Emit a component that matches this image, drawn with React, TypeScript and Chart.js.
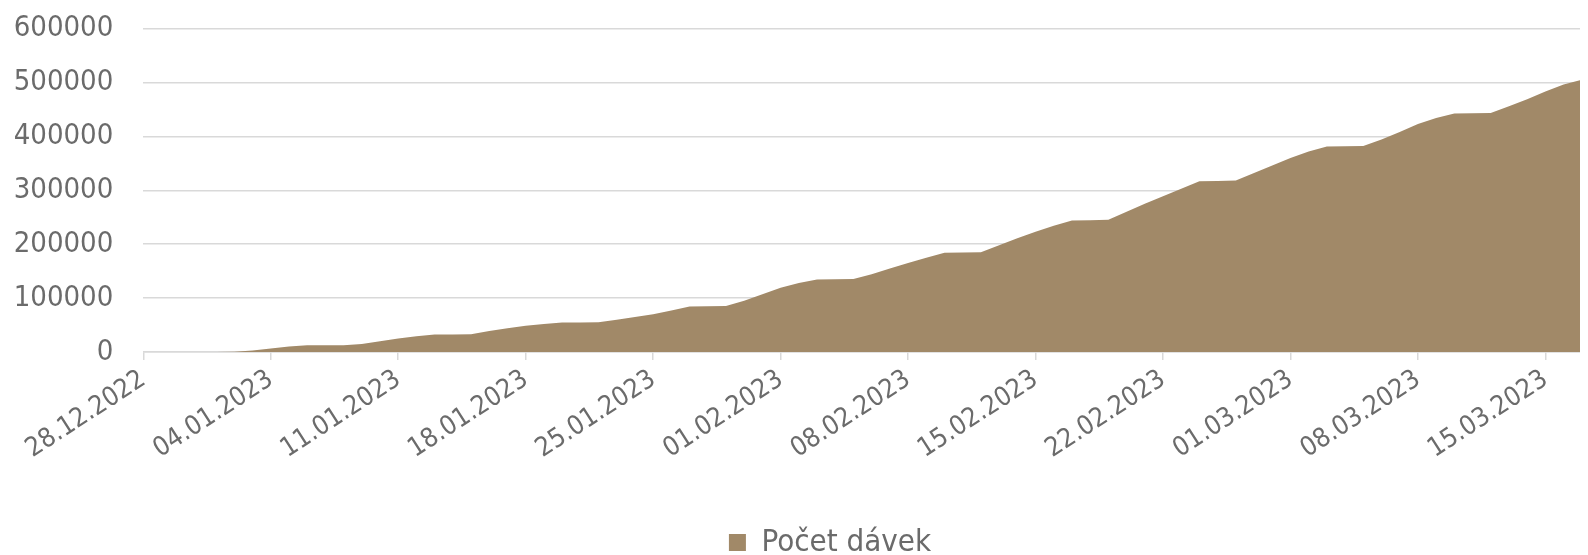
import React, { useEffect, useRef } from "react";
import { Chart, registerables } from "chart.js";

Chart.register(...registerables);

const DATES = [
  "28.12.2022", "29.12.2022", "30.12.2022", "31.12.2022", "01.01.2023", "02.01.2023", "03.01.2023",
  "04.01.2023", "05.01.2023", "06.01.2023", "07.01.2023", "08.01.2023", "09.01.2023", "10.01.2023",
  "11.01.2023", "12.01.2023", "13.01.2023", "14.01.2023", "15.01.2023", "16.01.2023", "17.01.2023",
  "18.01.2023", "19.01.2023", "20.01.2023", "21.01.2023", "22.01.2023", "23.01.2023", "24.01.2023",
  "25.01.2023", "26.01.2023", "27.01.2023", "28.01.2023", "29.01.2023", "30.01.2023", "31.01.2023",
  "01.02.2023", "02.02.2023", "03.02.2023", "04.02.2023", "05.02.2023", "06.02.2023", "07.02.2023",
  "08.02.2023", "09.02.2023", "10.02.2023", "11.02.2023", "12.02.2023", "13.02.2023", "14.02.2023",
  "15.02.2023", "16.02.2023", "17.02.2023", "18.02.2023", "19.02.2023", "20.02.2023", "21.02.2023",
  "22.02.2023", "23.02.2023", "24.02.2023", "25.02.2023", "26.02.2023", "27.02.2023", "28.02.2023",
  "01.03.2023", "02.03.2023", "03.03.2023", "04.03.2023", "05.03.2023", "06.03.2023", "07.03.2023",
  "08.03.2023", "09.03.2023", "10.03.2023", "11.03.2023", "12.03.2023", "13.03.2023", "14.03.2023",
  "15.03.2023", "16.03.2023", "17.03.2023", "18.03.2023",
];

const DOSES = [
  0, 0, 0, 0, 0, 500, 3000,
  6500, 10000, 12500, 12500, 12700, 15000, 20000,
  25000, 29000, 32500, 32500, 32700, 39000, 44000,
  48500, 52000, 54800, 54800, 55000, 60000, 65000,
  70000, 77000, 84500, 84700, 85500, 95000, 107000,
  119000, 128000, 134500, 135000, 135500, 144000, 155000,
  165000, 175000, 184000, 184500, 185000, 198000, 211000,
  223000, 234000, 244000, 244500, 245500, 260000, 275000,
  289000, 303000, 316500, 317000, 318000, 332000, 346000,
  360000, 372000, 381000, 381500, 382000, 394000, 408000,
  423000, 434000, 442500, 443000, 443500, 456000, 469000,
  483000, 496000, 505000, 505500,
];

const X_TICK_LABELS = [
  "28.12.2022", "04.01.2023", "11.01.2023", "18.01.2023", "25.01.2023", "01.02.2023",
  "08.02.2023", "15.02.2023", "22.02.2023", "01.03.2023", "08.03.2023", "15.03.2023",
];

const Y_TICKS = [0, 100000, 200000, 300000, 400000, 500000, 600000];

const SERIES_LABEL = "Počet dávek";

const FONT_FAMILY = "'DejaVu Sans Condensed', 'DejaVu Sans', sans-serif";
const TEXT_COLOR = "#6b6b6b";
const GRID_COLOR = "#d9d9d9";
const AREA_COLOR = "#a18968";

const LEGEND_SHIFT = 26;

const legendShift = {
  id: "legendShift",
  afterLayout(chart: any) {
    const lg = chart.legend;
    if (lg) {
      lg.left += LEGEND_SHIFT;
      lg.right += LEGEND_SHIFT;
    }
  },
};

export default function App() {
  const ref = useRef<HTMLCanvasElement>(null);

  useEffect(() => {
    if (!ref.current) return;
    const chart = new Chart(ref.current, {
      type: "line",
      data: {
        labels: DATES,
        datasets: [
          {
            label: SERIES_LABEL,
            data: DOSES,
            fill: "origin",
            backgroundColor: AREA_COLOR,
            borderColor: AREA_COLOR,
            borderWidth: 0,
            pointRadius: 0,
            tension: 0,
          },
        ],
      },
      plugins: [legendShift],
      options: {
        responsive: false,
        animation: false,
        devicePixelRatio: 1,
        layout: { padding: { left: 0, right: 48, top: 20.5, bottom: 0 } },
        plugins: {
          legend: {
            position: "bottom",
            labels: {
              boxWidth: 17,
              boxHeight: 17,
              padding: 2,
              color: TEXT_COLOR,
              font: { family: FONT_FAMILY, size: 31 },
            },
          },
          tooltip: { enabled: false },
        },
        scales: {
          x: {
            ticks: {
              autoSkip: false,
              minRotation: 33,
              maxRotation: 33,
              padding: 4,
              color: TEXT_COLOR,
              font: { family: FONT_FAMILY, size: 26.5 },
              callback: (_v: any, i: number) =>
                X_TICK_LABELS.includes(DATES[i]) ? DATES[i] : null,
            },
            grid: {
              drawOnChartArea: false,
              drawTicks: true,
              tickLength: 8,
              color: GRID_COLOR,
              lineWidth: 1.5,
            },
            border: { color: GRID_COLOR, width: 1.5 },
            afterFit: (s: any) => {
              s.height = 173;
            },
          },
          y: {
            min: 0,
            max: 600000,
            afterBuildTicks: (s: any) => {
              s.ticks = Y_TICKS.map((v) => ({ value: v }));
            },
            ticks: {
              padding: 0,
              color: TEXT_COLOR,
              font: { family: FONT_FAMILY, size: 29 },
              callback: (v: any) => String(v),
            },
            grid: {
              color: GRID_COLOR,
              lineWidth: 1.5,
              drawTicks: true,
              tickLength: 30,
              tickColor: "rgba(0,0,0,0)",
            },
            border: { display: false },
            afterFit: (s: any) => {
              s.width = 135.3;
            },
          },
        },
      },
    });
    return () => chart.destroy();
  }, []);

  return (
    <div style={{ width: 1580, height: 547, overflow: "hidden" }}>
      <canvas
        ref={ref}
        width={1640}
        height={560}
        style={{ display: "block", width: 1640, height: 560 }}
      />
    </div>
  );
}
